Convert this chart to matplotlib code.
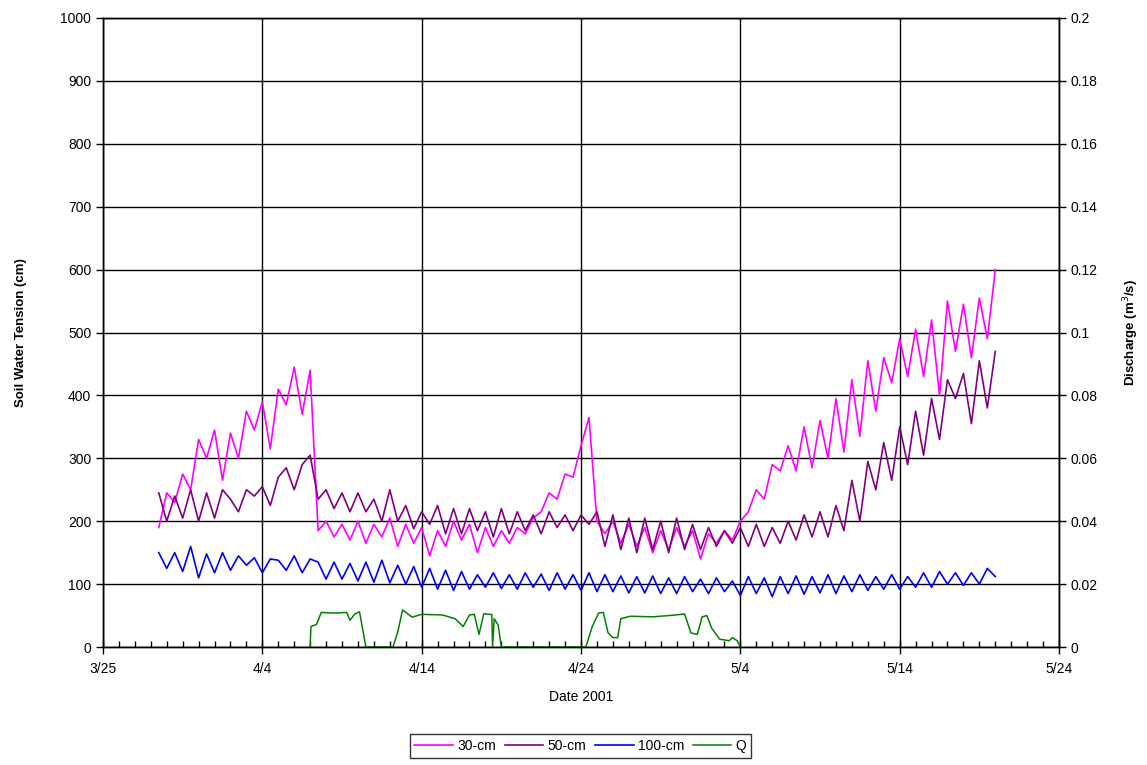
import matplotlib
matplotlib.use("Agg")
import matplotlib.pyplot as plt
import matplotlib.dates as mdates
from matplotlib.ticker import FormatStrFormatter, MultipleLocator
import numpy as np
import pandas as pd

plt.rcParams['font.family'] = ['Liberation Sans', 'DejaVu Sans']

# tension readings every half day, starting 3/28 12:00
t0 = 3.5   # days after 3/25
step = 0.5

soil30 = [190, 245, 230, 275, 250, 330, 300, 345, 265, 340,
          300, 375, 345, 390, 315, 410, 385, 445, 370, 440,
          185, 200, 175, 195, 170, 200, 165, 195, 175, 205,
          160, 195, 165, 190, 145, 185, 160, 200, 170, 195,
          150, 190, 160, 185, 165, 190, 180, 205, 215, 245,
          235, 275, 270, 320, 365, 200, 180, 200, 165, 195,
          160, 190, 150, 185, 155, 190, 160, 185, 140, 180,
          165, 185, 170, 200, 215, 250, 235, 290, 280, 320,
          280, 350, 285, 360, 300, 395, 310, 425, 335, 455,
          375, 460, 420, 490, 430, 505, 430, 520, 400, 550,
          470, 545, 460, 555, 490, 600]

soil50 = [245, 200, 240, 205, 250, 200, 245, 205, 250, 235,
          215, 250, 240, 255, 225, 270, 285, 250, 290, 305,
          235, 250, 220, 245, 215, 245, 215, 235, 200, 250,
          200, 225, 188, 215, 195, 225, 180, 220, 180, 220,
          185, 215, 175, 220, 180, 215, 185, 210, 180, 215,
          190, 210, 185, 210, 195, 215, 160, 210, 155, 205,
          150, 205, 155, 200, 150, 205, 155, 195, 155, 190,
          160, 185, 165, 190, 160, 195, 160, 190, 165, 200,
          170, 210, 175, 215, 175, 225, 185, 265, 200, 295,
          250, 325, 265, 350, 290, 375, 305, 395, 330, 425,
          395, 435, 355, 455, 380, 470]

soil100 = [150, 125, 150, 120, 160, 110, 148, 118, 150, 122,
           145, 130, 142, 118, 140, 138, 122, 145, 118, 140,
           135, 108, 135, 108, 133, 105, 135, 103, 138, 102,
           130, 100, 128, 95, 125, 92, 122, 90, 120, 92,
           115, 95, 118, 93, 115, 92, 118, 95, 116, 90,
           118, 92, 115, 90, 118, 88, 115, 88, 113, 86,
           112, 86, 113, 85, 110, 85, 112, 88, 108, 85,
           110, 88, 105, 82, 112, 85, 110, 80, 112, 85,
           113, 84, 112, 86, 115, 85, 113, 88, 115, 90,
           112, 92, 115, 92, 112, 95, 118, 95, 120, 100,
           118, 98, 118, 100, 125, 112]

# discharge (m3/s)
q_days = [13.0, 13.05, 13.4, 13.7, 14.5, 15.3, 15.5, 15.8, 16.1, 16.5,
          18.2, 18.5, 18.8, 19.4, 20.0, 21.3, 22.1, 22.6, 23.0, 23.3,
          23.6, 23.9, 24.2, 24.4, 24.45, 24.55, 24.8, 25.0,
          30.3, 30.7, 31.1, 31.4, 31.7, 32.0, 32.3, 32.5, 33.1, 34.5,
          35.5, 36.5, 36.9, 37.3, 37.6, 37.9, 38.2, 38.7, 39.3, 39.5,
          39.8, 40.0]
q_vals = [0.0, 0.0065, 0.0072, 0.011, 0.0108, 0.011, 0.0085, 0.0105, 0.0112, 0.0,
          0.0, 0.0048, 0.0118, 0.0095, 0.0104, 0.0102, 0.009, 0.0065, 0.0102, 0.0104,
          0.004, 0.0106, 0.0104, 0.0104, 0.0, 0.009, 0.007, 0.0,
          0.0, 0.0064, 0.0108, 0.011, 0.0045, 0.003, 0.003, 0.009, 0.0098, 0.0096,
          0.0100, 0.0105, 0.0045, 0.0040, 0.0096, 0.0100, 0.0060, 0.0025, 0.0020, 0.0030,
          0.0020, 0.0]

start = pd.Timestamp('2001-03-25')
t_soil = t0 + step * np.arange(len(soil30))
x_soil = start + pd.to_timedelta(t_soil, unit='D')
x_q = start + pd.to_timedelta(np.array(q_days), unit='D')

fig = plt.figure(figsize=(11.47, 7.65), dpi=100)
ax = fig.add_axes([0.0898, 0.1542, 0.8335, 0.8223])
ax2 = ax.twinx()

l1, = ax.plot(x_soil, soil30, color='#FF00FF', lw=1.2, label='30-cm')
l2, = ax.plot(x_soil, soil50, color='#800080', lw=1.2, label='50-cm')
l3, = ax.plot(x_soil, soil100, color='#0000FF', lw=1.2, label='100-cm')
l4, = ax2.plot(x_q, q_vals, color='#008000', lw=1.1, label='Q')

ax.set_ylim(0, 1000)
ax2.set_ylim(0, 0.2)
ax.set_xlim(pd.Timestamp('2001-03-25'), pd.Timestamp('2001-05-24'))

ax.set_xticks(pd.date_range('2001-03-25', periods=7, freq='10D'))
ax.set_xticks(pd.date_range('2001-03-25', '2001-05-24', freq='D'), minor=True)
ax.xaxis.set_major_formatter(mdates.DateFormatter('%-m/%-d'))
ax.yaxis.set_major_locator(MultipleLocator(100))
ax2.yaxis.set_major_locator(MultipleLocator(0.02))
ax2.yaxis.set_major_formatter(FormatStrFormatter('%g'))

ax.grid(True, which='major', color='black', lw=1.0)
ax.set_axisbelow(True)

ax.tick_params(axis='x', which='major', direction='inout', length=10, width=1, labelsize=10, pad=6)
ax.tick_params(axis='x', which='minor', direction='in', length=4, width=1)
ax.tick_params(axis='y', direction='out', length=5, width=1, labelsize=10)
ax2.tick_params(axis='y', direction='out', length=5, width=1, labelsize=10)
for a in (ax, ax2):
    for s in a.spines.values():
        s.set_linewidth(1.0)
        s.set_color('black')

ax.set_xlabel('Date 2001', fontsize=10, labelpad=10)
ax.set_ylabel('Soil Water Tension (cm)', fontsize=9.5, fontweight='bold', labelpad=24)
ax2.set_ylabel('Discharge (m$^3$/s)', fontsize=9.5, fontweight='bold', labelpad=17)

leg = fig.legend(handles=[l1, l2, l3, l4], loc='center', bbox_to_anchor=(0.506, 0.025),
                 ncol=4, fontsize=10, frameon=True, fancybox=False, handlelength=2.8,
                 handletextpad=0.3, columnspacing=0.6, borderpad=0.35)
leg.get_frame().set_edgecolor('black')
leg.get_frame().set_linewidth(1.0)

fig.savefig('out.png', dpi=100)
